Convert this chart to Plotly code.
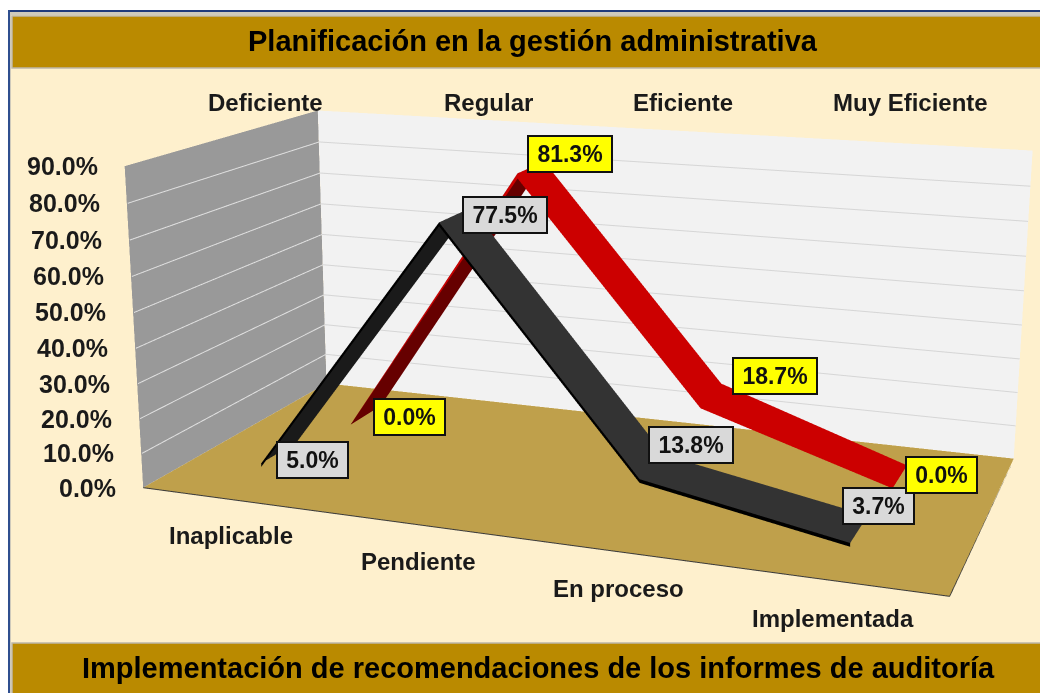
import plotly.graph_objects as go

categories = ["Inaplicable", "Pendiente", "En proceso", "Implementada"]
top_labels = ["Deficiente", "Regular", "Eficiente", "Muy Eficiente"]
red_values = [0.0, 81.3, 18.7, 0.0]
black_values = [5.0, 77.5, 13.8, 3.7]
z_ticks = [0, 10, 20, 30, 40, 50, 60, 70, 80, 90]
title_top = "Planificación en la gestión administrativa"
title_bottom = "Implementación de recomendaciones de los informes de auditoría"

FONT = "Liberation Sans"
# The original's long lens needs a scene much larger than the window: the page is
# moved up by -TOP so that the scene's centre falls where the original's does.
W, H, TOP = 1111, 1600, -476
RED_Y, BLACK_Y, HALF = 1.5, 0.5, 0.1926
BG, BAR = "#FEF0CD", "#BA8A00"
red_shift = [(44, 2), (39, -13), (64, -17), (42, -2)]
black_shift = [(33, 8), (50, 0), (39, -22), (19, -23)]


def px(x):
    return (x - 8) / W


def py(y):
    return 1 - (y - TOP) / H


def mesh(X, Y, Z, I, J, K, colors):
    return go.Mesh3d(x=X, y=Y, z=Z, i=I, j=J, k=K, facecolor=colors, flatshading=True,
                     lighting=dict(ambient=1, diffuse=0, specular=0, roughness=1, fresnel=0),
                     hoverinfo="skip", showscale=False)


def quad(x, y, z, color):
    return mesh(x, y, z, [0, 0], [1, 2], [2, 3], [color, color])


def ribbon(vals, yc, up_col, down_col, side_col, thick):
    X, Y, Z, I, J, K, C = [], [], [], [], [], [], []
    for n in range(len(vals) - 1):
        for yy0, yy1, z0, z1, z2, z3, col in (
            (yc - HALF, yc + HALF, vals[n], vals[n], vals[n + 1], vals[n + 1],
             up_col if vals[n + 1] > vals[n] else down_col),
            (yc - HALF, yc - HALF, vals[n], max(vals[n] - thick, 0),
             max(vals[n + 1] - thick, 0), vals[n + 1], side_col),
        ):
            b = len(X)
            X += [n, n, n + 1, n + 1]
            Y += [yy0, yy1, yy1, yy0]
            Z += [z0, z1, z2, z3]
            I += [b, b]
            J += [b + 1, b + 2]
            K += [b + 2, b + 3]
            C += [col, col]
    return mesh(X, Y, Z, I, J, K, C)


def line3d(x, y, z, color, width):
    return go.Scatter3d(x=x, y=y, z=z, mode="lines", line=dict(color=color, width=width),
                        hoverinfo="skip")


fig = go.Figure()
fig.add_trace(quad([-.5, 3.5, 3.5, -.5], [0, 0, 2, 2], [0, 0, 0, 0], "#BFA04B"))
fig.add_trace(quad([-.5, 3.5, 3.5, -.5], [2, 2, 2, 2], [0, 0, 90, 90], "#F2F2F2"))
fig.add_trace(quad([-.5, -.5, -.5, -.5], [0, 2, 2, 0], [0, 0, 90, 90], "#999999"))
for t in z_ticks[1:-1]:
    fig.add_trace(line3d([-.5, 3.5], [1.995, 1.995], [t, t], "#D6D6D6", 2))
    fig.add_trace(line3d([-.495, -.495], [0, 2], [t, t], "#E0E0E0", 2))
fig.add_trace(line3d([-.5, 3.5, 3.5], [0, 0, 2], [0, 0, 0], "#3A3A3A", 2))
fig.add_trace(ribbon(red_values, RED_Y, "#660000", "#CC0000", "#CC0000", 1.5))
fig.add_trace(ribbon(black_values, BLACK_Y, "#1A1A1A", "#333333", "#000000", 1.0))

scene_notes = []
for vals, yc, bg, shifts in ((black_values, BLACK_Y, "#D9D9D9", black_shift),
                             (red_values, RED_Y, "#FFFF00", red_shift)):
    for i, v in enumerate(vals):
        t = f"{v:.1f}%"
        scene_notes.append(dict(
            x=i, y=yc, z=v, text=f"<b>{t}</b>", showarrow=False, bgcolor=bg, bordercolor="#111111",
            borderwidth=2, width=80 if v >= 10 else 67, height=32, align="center", valign="middle",
            xshift=shifts[i][0], yshift=-shifts[i][1],
            font=dict(family=FONT, size=23, color="#111111")))
for t in z_ticks:
    scene_notes.append(dict(
        x=-.5, y=0, z=t, text=f"<b>{t:.1f}%</b>", showarrow=False, xanchor="right", xshift=-25,
        font=dict(family=FONT, size=25, color="#1A1A1A")))

paper_notes = [
    dict(text=f"<b>{title_top}</b>", x=px(533), y=py(41), font=dict(family=FONT, size=29, color="black")),
    dict(text=f"<b>{title_bottom}</b>", x=px(538), y=py(668), font=dict(family=FONT, size=29, color="black")),
]
for t, cx, cy in zip(top_labels, (265, 488, 683, 910), (103, 103, 103, 103)):
    paper_notes.append(dict(text=f"<b>{t}</b>", x=px(cx), y=py(cy), font=dict(family=FONT, size=24, color="#1A1A1A")))
for t, cx, cy in zip(categories, (231, 418, 618, 833), (536, 561, 588, 618)):
    paper_notes.append(dict(text=f"<b>{t}</b>", x=px(cx), y=py(cy), font=dict(family=FONT, size=24, color="#1A1A1A")))
for n in paper_notes:
    n.update(xref="paper", yref="paper", showarrow=False, xanchor="center", yanchor="middle")


def rect(x0, y0, x1, y1, color, line=None, lw=0):
    return dict(type="rect", xref="paper", yref="paper", layer="below",
                x0=px(x0), x1=px(x1), y0=py(y1), y1=py(y0), fillcolor=color,
                line=dict(width=lw, color=line or color))


shapes = [
    rect(0, TOP, W + 8, 10, "white"),
    rect(0, 10, W + 8, 12, "#1F3A7A"),
    rect(0, 12, W + 8, 15, "#CFCABB"),
    rect(9, 12, 11, 700, "#CFCABB"),
    rect(12, 16, W + 8, 68, BAR, "#BDB7A8", 1.5),
    rect(12, 643, W + 8, 800, BAR, "#BDB7A8", 1.5),
    rect(8, 10, 10, 700, "#2F4F8F"),
]

axis_off = dict(visible=False, showgrid=False, zeroline=False, showbackground=False)
fig.update_layout(
    width=W, height=H, showlegend=False, autosize=False,
    margin=dict(l=0, r=0, t=0, b=0),
    paper_bgcolor=BG,
    annotations=paper_notes,
    shapes=shapes,
    scene=dict(
        domain=dict(x=[0, 1], y=[0, 1]),
        xaxis=dict(range=[-.5, 3.5], **axis_off),
        yaxis=dict(range=[0, 2], **axis_off),
        zaxis=dict(range=[0, 90], **axis_off),
        aspectmode="manual", aspectratio=dict(x=2.3175, y=1.1478, z=0.9387),
        camera=dict(eye=dict(x=1.8254, y=-5.0944, z=1.3828),
                    center=dict(x=-0.0377, y=-0.1074, z=0.0070),
                    up=dict(x=0.00181, y=0.00501, z=1)),
        annotations=scene_notes,
        bgcolor="rgba(0,0,0,0)",
    ),
)
fig.write_html("out.html", post_script=f"document.documentElement.style.overflow='hidden';document.body.style.marginTop='{TOP}px';")
